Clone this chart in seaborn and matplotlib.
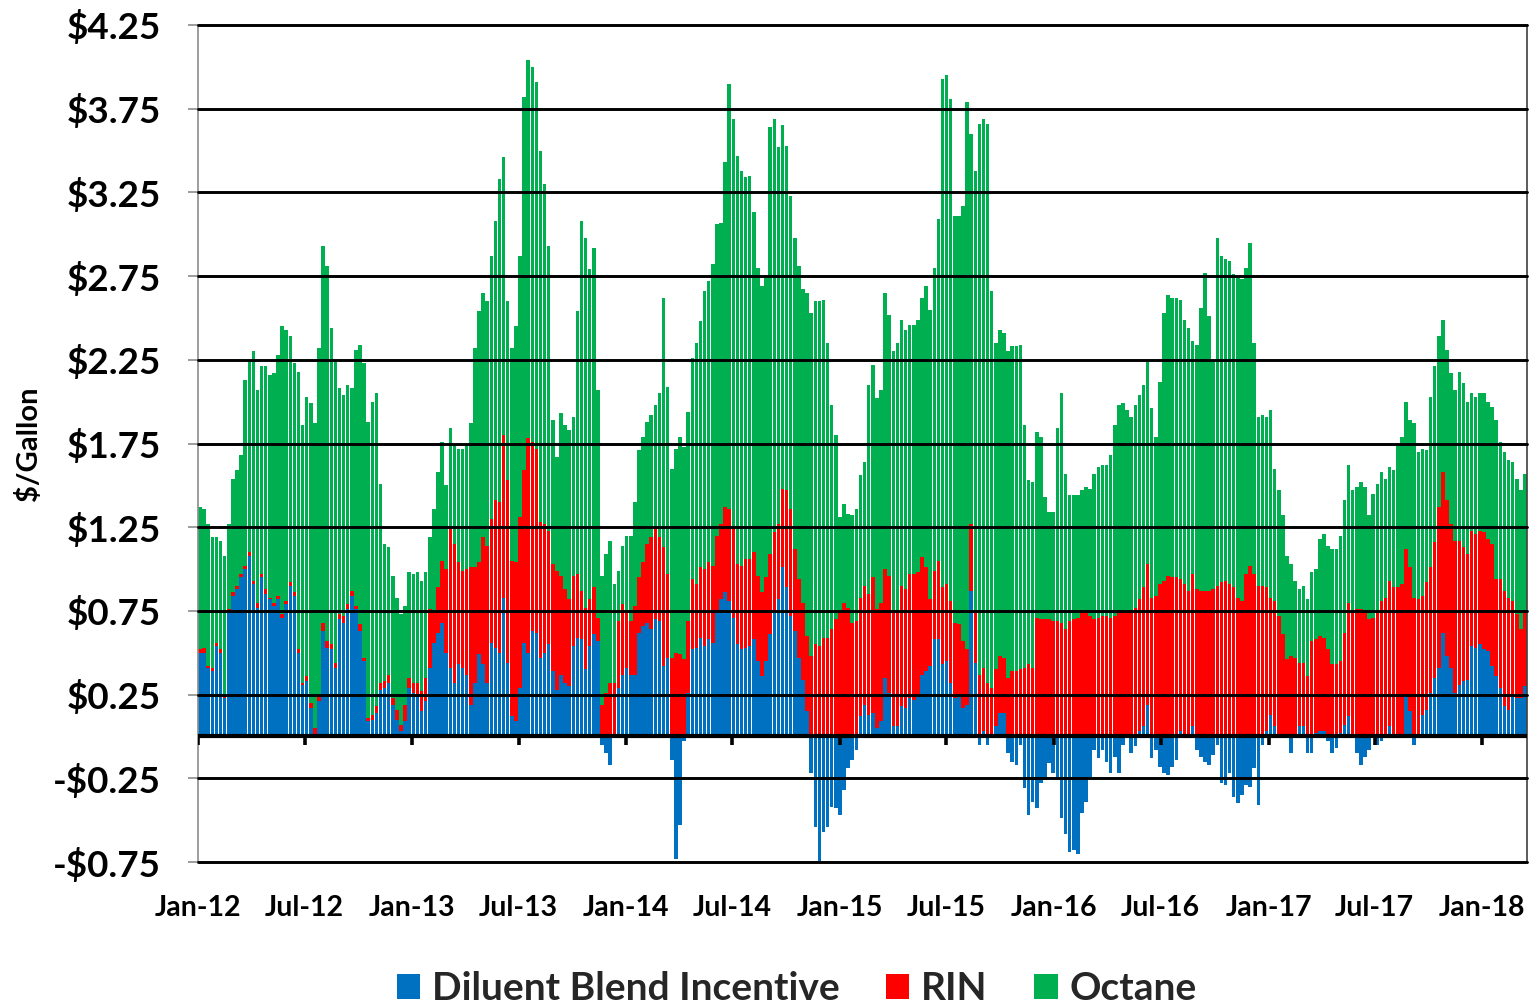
import numpy as np
import pandas as pd
import matplotlib
matplotlib.use("Agg")
import matplotlib.pyplot as plt
from matplotlib.patches import Patch
from matplotlib.ticker import FuncFormatter
import seaborn as sns

# weekly values in $/gallon, first week of Jan-2012 through mid Mar-2018
dbi = [
    .50, .50, .41, .39, .54, .50, .23, .75, .84, .88,
    .95, 1.00, 1.08, .91, .77, .95, .85, .82, .78, .82,
    .71, .79, .90, .84, .50, .31, .33, .17, .00, .21,
    .63, .53, .52, .41, .70, .68, .76, .84, .76, .63,
    .45, .09, .10, .14, .28, .29, .32, .19, .10, .03,
    .09, .29, .26, .24, .15, .21, .41, .56, .62, .68,
    .50, .41, .32, .43, .41, .37, .19, .32, .49, .43,
    .32, .56, .53, .50, .83, .44, .12, .09, .29, .56,
    .50, .63, .62, .47, .50, .55, .39, .28, .37, .32,
    .30, .54, .59, .58, .40, .54, .61, .57, -.05, -.10,
    -.17, .00, .29, .37, .41, .37, .37, .62, .66, .68,
    .64, .70, .69, .42, .47, -.14, -.73, -.53, -.03, .26,
    .52, .53, .59, .54, .58, .56, .75, .82, .86, .81,
    .71, .55, .52, .53, .54, .58, .45, .36, .45, .61,
    .75, .82, 1.01, .89, .72, .63, .47, .34, .15, -.22,
    -.54, -.75, -.57, -.54, -.42, -.43, -.47, -.32, -.19, -.14,
    -.08, .12, .19, .13, .14, .05, .09, .35, .26, .06,
    .06, .18, .17, .23, .22, .25, .37, .39, .42, .58,
    .58, .43, .45, .32, .23, .24, .17, .19, .87, .44,
    -.05, .03, -.05, .00, .06, .14, .14, -.10, -.15, -.17,
    -.05, -.31, -.47, -.39, -.43, -.28, -.26, -.16, -.22, -.24,
    -.49, -.58, -.69, -.68, -.70, -.46, -.39, -.24, -.08, -.13,
    -.08, -.15, -.22, -.12, -.22, -.05, .00, -.10, -.06, .03,
    .06, .19, -.13, -.08, -.18, -.22, -.23, -.18, -.14, .03,
    .00, .00, .06, -.08, -.12, -.15, -.17, -.11, -.05, -.28,
    -.29, -.22, -.36, -.40, -.35, -.29, -.30, -.19, -.41, -.05,
    .03, .13, .06, .00, .00, .00, -.10, .00, .06, .06,
    -.10, -.10, .02, .03, .03, -.03, -.10, -.07, .02, .07,
    .12, .00, -.10, -.17, -.12, -.08, .00, -.05, -.03, .00,
    .06, .00, .00, .00, .24, .15, -.05, .00, .13, .16,
    .26, .35, .41, .62, .48, .41, .26, .31, .33, .34,
    .54, .53, .55, .52, .51, .42, .36, .29, .18, .16,
    .24, .23, .23, .30,
]
rin = [
    .02, .03, .01, .02, .02, .02, .02, .01, .02, .02,
    .02, .02, .02, .02, .03, .02, .03, .01, .02, .02,
    .02, .02, .02, .02, .02, .01, .03, .03, .05, .04,
    .05, .04, .03, .03, .03, .04, .03, .03, .02, .04,
    .02, .02, .03, .04, .04, .04, .05, .04, .06, .04,
    .10, .06, .06, .08, .12, .14, .35, .18, .27, .37,
    .50, .83, .83, .61, .58, .63, .82, .69, .55, .76,
    .82, .74, .88, .90, .97, 1.09, .93, .95, 1.02, 1.03,
    1.28, 1.13, 1.10, .81, .77, .68, .64, .71, .59, .56,
    .52, .42, .38, .29, .37, .28, .28, .14, .19, .26,
    .32, .32, .40, .42, .34, .32, .41, .33, .38, .47,
    .55, .55, .50, .71, .50, .47, .50, .49, .46, .43,
    .42, .38, .42, .46, .46, .46, .45, .45, .51, .55,
    .54, .48, .50, .53, .52, .52, .51, .50, .50, .48,
    .47, .45, .47, .58, .64, .49, .47, .46, .45, .48,
    .55, .54, .59, .59, .64, .70, .74, .80, .77, .68,
    .69, .71, .71, .72, .81, .71, .71, .65, .70, .69,
    .69, .72, .71, .74, .75, .73, .70, .62, .40, .41,
    .47, .46, .46, .49, .45, .43, .40, .33, .40, .31,
    .37, .38, .32, .29, .34, .34, .33, .35, .39, .39,
    .40, .41, .43, .41, .71, .70, .70, .70, .69, .69,
    .68, .64, .69, .70, .71, .74, .74, .72, .70, .71,
    .72, .72, .71, .72, .74, .74, .74, .75, .77, .79,
    .83, .84, .83, .84, .91, .93, .96, .95, .95, .91,
    .91, .87, .91, .88, .87, .87, .87, .88, .90, .92,
    .93, .91, .89, .83, .81, .97, 1.02, .97, .90, .90,
    .86, .70, .75, .72, .61, .46, .48, .47, .38, .38,
    .36, .57, .56, .57, .56, .52, .43, .43, .43, .55,
    .68, .74, .76, .76, .74, .70, .71, .74, .81, .83,
    .87, .89, .89, .91, .88, .86, .83, .82, .71, .76,
    .75, .81, .96, .96, .93, .86, .91, .86, .80, .75,
    .69, .68, .68, .70, .67, .73, .58, .65, .69, .67,
    .57, .50, .41, .44,
]
octane = [
    .85, .83, .85, .78, .63, .65, .83, .51, .68, .69,
    .71, 1.11, 1.14, 1.37, 1.27, 1.24, 1.33, 1.33, 1.37, 1.44,
    1.72, 1.62, 1.47, 1.37, 1.66, 1.54, 1.67, 1.79, 1.82, 2.07,
    2.25, 2.24, 1.89, 1.81, 1.35, 1.32, 1.31, 1.21, 1.53, 1.67,
    1.76, 1.77, 1.87, 1.87, 1.19, .82, .76, .73, .67, .66,
    .59, .63, .65, .66, .66, .63, .43, .62, .69, .71,
    .50, .60, .60, .68, .73, .74, .86, 1.31, 1.50, 1.46,
    1.46, 1.57, 1.67, 1.93, 1.66, 1.07, 1.27, 1.41, 1.56, 2.23,
    2.26, 2.24, 2.19, 2.22, 2.03, 1.70, .86, .68, .97, .98,
    1.01, .95, 1.57, 2.21, 2.21, 1.97, 2.03, 1.36, .77, .83,
    .85, .59, .30, .35, .45, .51, .62, .76, .75, .73,
    .73, .73, .86, 1.49, 1.12, 1.13, 1.22, 1.30, 1.27, 1.25,
    1.32, 1.44, 1.47, 1.66, 1.68, 1.80, 1.86, 1.80, 2.06, 2.54,
    2.44, 2.44, 2.36, 2.28, 2.29, 2.03, 1.84, 1.83, 1.79, 2.55,
    2.47, 2.25, 2.17, 2.06, 1.87, 1.86, 1.87, 1.87, 2.05, 2.05,
    2.05, 2.06, 2.02, 1.76, 1.34, 1.10, .57, .59, .56, .64,
    .67, .73, .74, 1.25, 1.27, 1.26, 1.27, 1.65, 1.56, 1.55,
    1.60, 1.59, 1.55, 1.49, 1.49, 1.51, 1.55, 1.68, 1.73, 1.81,
    2.04, 3.04, 3.04, 3.00, 2.43, 2.44, 2.60, 3.27, 2.33, 2.63,
    3.29, 3.28, 3.34, 2.37, 1.95, 1.95, 1.94, 1.95, 1.94, 1.94,
    1.94, 1.45, 1.10, 1.11, 1.11, 1.09, .73, .64, .65, 1.15,
    1.37, .93, .75, .74, .73, .73, .75, .76, .87, .90,
    .90, .90, .97, 1.14, 1.24, 1.25, 1.21, 1.16, 1.21, 1.22,
    1.21, 1.21, 1.13, .95, 1.21, 1.60, 1.68, 1.67, 1.67, 1.67,
    1.58, 1.57, 1.39, 1.46, 1.69, 1.90, 1.64, 1.37, 2.08, 1.95,
    1.92, 1.93, 1.87, 1.91, 1.92, 1.83, 1.93, 1.38, 1.01, 1.02,
    1.02, 1.12, .79, .75, .71, .62, .55, .46, .44, .46,
    .46, .41, .42, .58, .62, .62, .69, .69, .75, .79,
    .82, .73, .73, .76, .75, .62, .74, .77, .77, .71,
    .68, .70, .85, .88, .88, .88, 1.04, .88, .88, .79,
    1.02, 1.05, 1.02, .91, .90, .90, .90, 1.01, .98, .91,
    .82, .82, .82, .83, .82, .82, .95, .82, .83, .82,
    .83, .81, .83, .83,
]

series_names = ["Diluent Blend Incentive", "RIN", "Octane"]
series_colors = ["#0070C0", "#FF0000", "#00B050"]
y_ticks = np.arange(-0.75, 4.26, 0.5)
tick_dates = pd.date_range("2012-01-01", "2018-01-01", freq="6MS")

df = pd.DataFrame({"week": np.arange(len(dbi)), "dbi": dbi, "rin": rin, "octane": octane})
# Excel-style stacking: positives pile up from 0, negative blend incentive hangs below
df["rin_top"] = df["dbi"].clip(lower=0) + df["rin"]
df["oct_top"] = df["rin_top"] + df["octane"]

# week index of each Jan/Jul label (bar 0 sits in the first week of Jan-12)
tick_pos = (tick_dates - pd.Timestamp("2012-01-01")).days / 7 - 0.5
tick_labels = [d.strftime("%b-%y") for d in tick_dates]

sns.set_theme(style="white")
plt.rcParams["font.family"] = ["Lato", "DejaVu Sans"]
plt.rcParams["font.weight"] = "bold"

fig = plt.figure(figsize=(15.29, 10.05), dpi=100)
ax = fig.add_axes([198 / 1529, 1 - 862 / 1005, 1329 / 1529, 837 / 1005])

for col, color in [("oct_top", series_colors[2]), ("rin_top", series_colors[1]), ("dbi", series_colors[0])]:
    sns.barplot(data=df, x="week", y=col, native_scale=True, orient="x", color=color,
                saturation=1, width=0.86, errorbar=None, linewidth=0, ax=ax)

for y in y_ticks:
    ax.axhline(y, color="black", lw=2.1, zorder=3, clip_on=False)
ax.axhline(0, color="black", lw=3.0, zorder=4)
ax.vlines(tick_pos, -0.05, 0, color="black", lw=2.6, zorder=4)

ax.set_xlim(-0.5, len(dbi) - 0.5)
ax.set_ylim(-0.75, 4.25)
ax.set_yticks(y_ticks)
ax.yaxis.set_major_formatter(FuncFormatter(lambda v, p: ("-" if v < 0 else "") + "${:.2f}".format(abs(v))))
ax.set_xticks(tick_pos, tick_labels)

ax.tick_params(axis="y", left=True, length=7, width=1.2, color="#8c8c8c", pad=20,
               labelsize=26.5, labelcolor="black")
ax.tick_params(axis="x", bottom=False, length=0, pad=24, labelsize=20.5, labelcolor="black")

ax.set_xlabel("")
ax.set_ylabel("$/Gallon", fontsize=21, fontweight="bold", color="black", labelpad=8)

for side in ["top", "bottom"]:
    ax.spines[side].set_visible(False)
ax.spines["left"].set_color("#8c8c8c")
ax.spines["left"].set_linewidth(1.2)
ax.spines["right"].set_color("#404040")
ax.spines["right"].set_linewidth(1.2)

handles = [Patch(facecolor=c, edgecolor="none") for c in series_colors]
fig.legend(handles, series_names, loc="center", bbox_to_anchor=(0.521, 0.016), ncol=3,
           frameon=False, prop={"size": 28, "weight": "bold"}, handlelength=0.6,
           handleheight=0.6, handletextpad=0.3, columnspacing=1.2)

fig.savefig("out.png", dpi=100)
